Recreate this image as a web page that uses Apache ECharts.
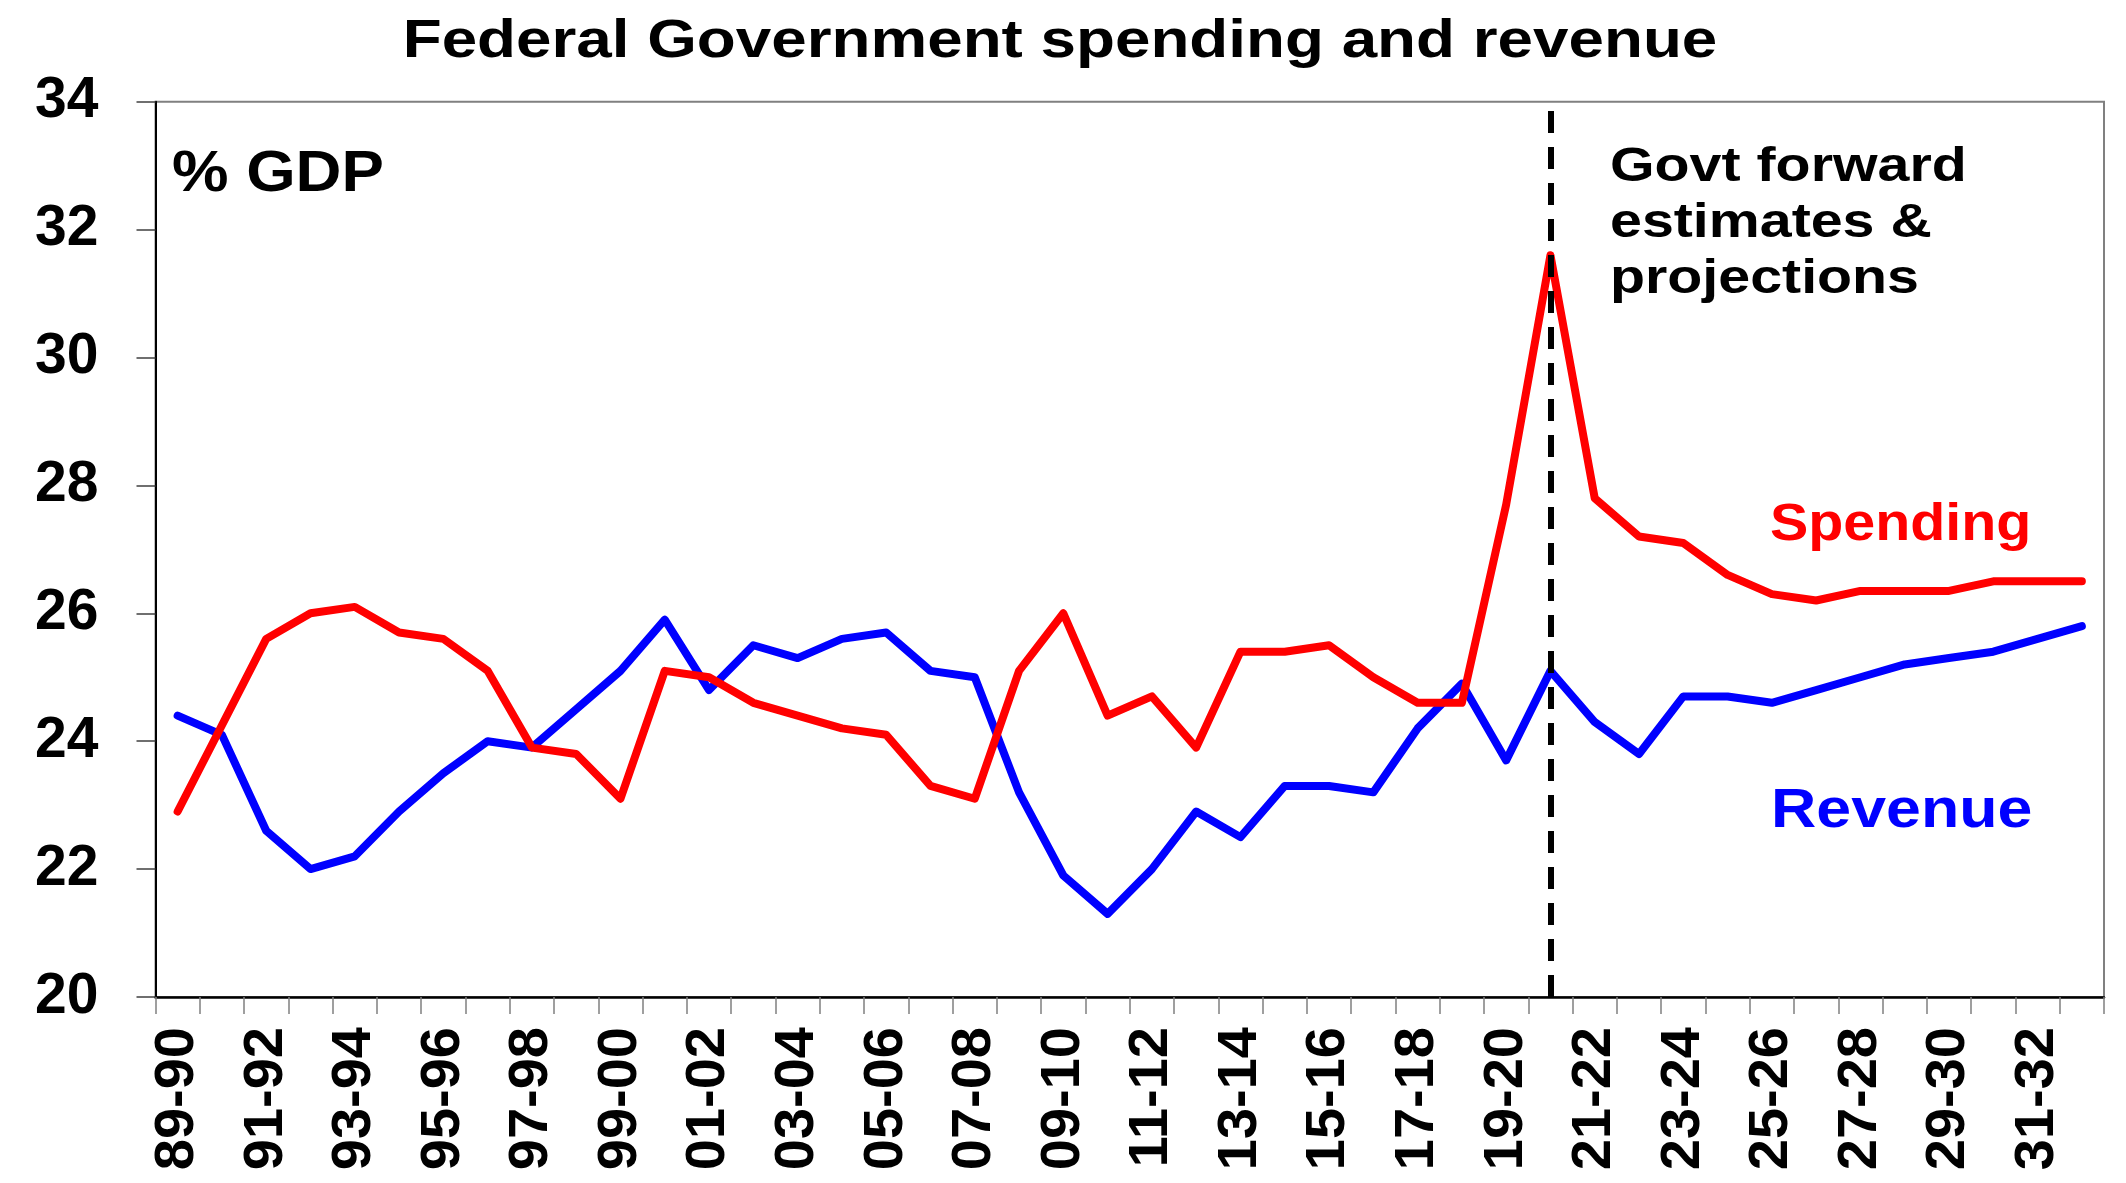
<!DOCTYPE html>
<html>
<head>
<meta charset="utf-8">
<script src="https://cdn.jsdelivr.net/npm/echarts@6/dist/echarts.min.js"></script>
<style>
html,body{margin:0;padding:0;background:#fff;}
#chart{width:2126px;height:1183px;}
</style>
</head>
<body>
<div id="chart"></div>
<script>
var categories = ['89-90','90-91','91-92','92-93','93-94','94-95','95-96','96-97','97-98','98-99',
  '99-00','00-01','01-02','02-03','03-04','04-05','05-06','06-07','07-08','08-09',
  '09-10','10-11','11-12','12-13','13-14','14-15','15-16','16-17','17-18','18-19',
  '19-20','20-21','21-22','22-23','23-24','24-25','25-26','26-27','27-28','28-29',
  '29-30','30-31','31-32','32-33'];

var revenue = [24.4, 24.1, 22.6, 22.0, 22.2, 22.9, 23.5, 24.0, 23.9, 24.5,
  25.1, 25.9, 24.8, 25.5, 25.3, 25.6, 25.7, 25.1, 25.0, 23.2,
  21.9, 21.3, 22.0, 22.9, 22.5, 23.3, 23.3, 23.2, 24.2, 24.9,
  23.7, 25.1, 24.3, 23.8, 24.7, 24.7, 24.6, 24.8, 25.0, 25.2,
  25.3, 25.4, 25.6, 25.8];

var spending = [22.9, 24.25, 25.6, 26.0, 26.1, 25.7, 25.6, 25.1, 23.9, 23.8,
  23.1, 25.1, 25.0, 24.6, 24.4, 24.2, 24.1, 23.3, 23.1, 25.1,
  26.0, 24.4, 24.7, 23.9, 25.4, 25.4, 25.5, 25.0, 24.6, 24.6,
  27.7, 31.6, 27.8, 27.2, 27.1, 26.6, 26.3, 26.2, 26.35, 26.35,
  26.35, 26.5, 26.5, 26.5];

var forecastStart = '20-21';
var yMin = 20, yMax = 34, yStep = 2;

var FONT = "'Liberation Sans', Arial, Helvetica, sans-serif";

function txt(text, x, y, size, color, sx, align, lh) {
  return {
    type: 'text', x: x, y: y, scaleX: sx, scaleY: 1, z: 100,
    style: {
      text: text, fill: color, fontSize: size, fontWeight: 'bold', fontFamily: FONT,
      align: align, textAlign: align, verticalAlign: 'middle', textVerticalAlign: 'middle',
      lineHeight: lh || size
    }
  };
}

var chart = echarts.init(document.getElementById('chart'), null, {renderer: 'canvas'});
chart.setOption({
  animation: false,
  backgroundColor: '#ffffff',
  grid: {
    left: 155.5, right: 22, top: 101.7, bottom: 186,
    show: true, borderColor: '#808080', borderWidth: 2, backgroundColor: 'transparent'
  },
  xAxis: {
    type: 'category',
    data: categories,
    boundaryGap: true,
    axisLine: {show: true, lineStyle: {color: '#000', width: 2.5}},
    axisTick: {show: true, interval: 0, length: 17, lineStyle: {color: '#808080', width: 1.5}},
    axisLabel: {
      interval: 1, rotate: 90, margin: 30,
      fontSize: 56, fontWeight: 'bold', fontFamily: FONT, color: '#000'
    },
    splitLine: {show: false}
  },
  yAxis: {
    type: 'value',
    min: yMin, max: yMax, interval: yStep,
    axisLine: {show: true, lineStyle: {color: '#000', width: 2}},
    axisTick: {show: true, length: 19, lineStyle: {color: '#404040', width: 1.5}},
    axisLabel: {margin: 57, fontSize: 57, fontWeight: 'bold', fontFamily: FONT, color: '#000'},
    splitLine: {show: false}
  },
  series: [
    {
      name: 'Revenue', type: 'line', data: revenue, symbol: 'none',
      lineStyle: {color: '#0000FF', width: 8, cap: 'round', join: 'round'}
    },
    {
      name: 'Spending', type: 'line', data: spending, symbol: 'none',
      lineStyle: {color: '#FF0000', width: 8, cap: 'round', join: 'round'},
      markLine: {
        silent: true, symbol: 'none', z: 10,
        label: {show: false},
        lineStyle: {color: '#000', width: 6, type: [22, 14]},
        emphasis: {disabled: true},
        data: [{xAxis: forecastStart}]
      }
    }
  ],
  graphic: [
    txt('Federal Government spending and revenue', 1060, 42, 54.5, '#000', 1.17, 'center'),
    txt('% GDP', 172, 175, 57, '#000', 1.115, 'left'),
    txt('Govt forward\nestimates &\nprojections', 1610, 223, 49, '#000', 1.17, 'left', 56),
    txt('Spending', 1770, 526, 51, '#FF0000', 1.125, 'left'),
    txt('Revenue', 1771, 812, 55, '#0000FF', 1.14, 'left')
  ]
});
</script>
</body>
</html>
